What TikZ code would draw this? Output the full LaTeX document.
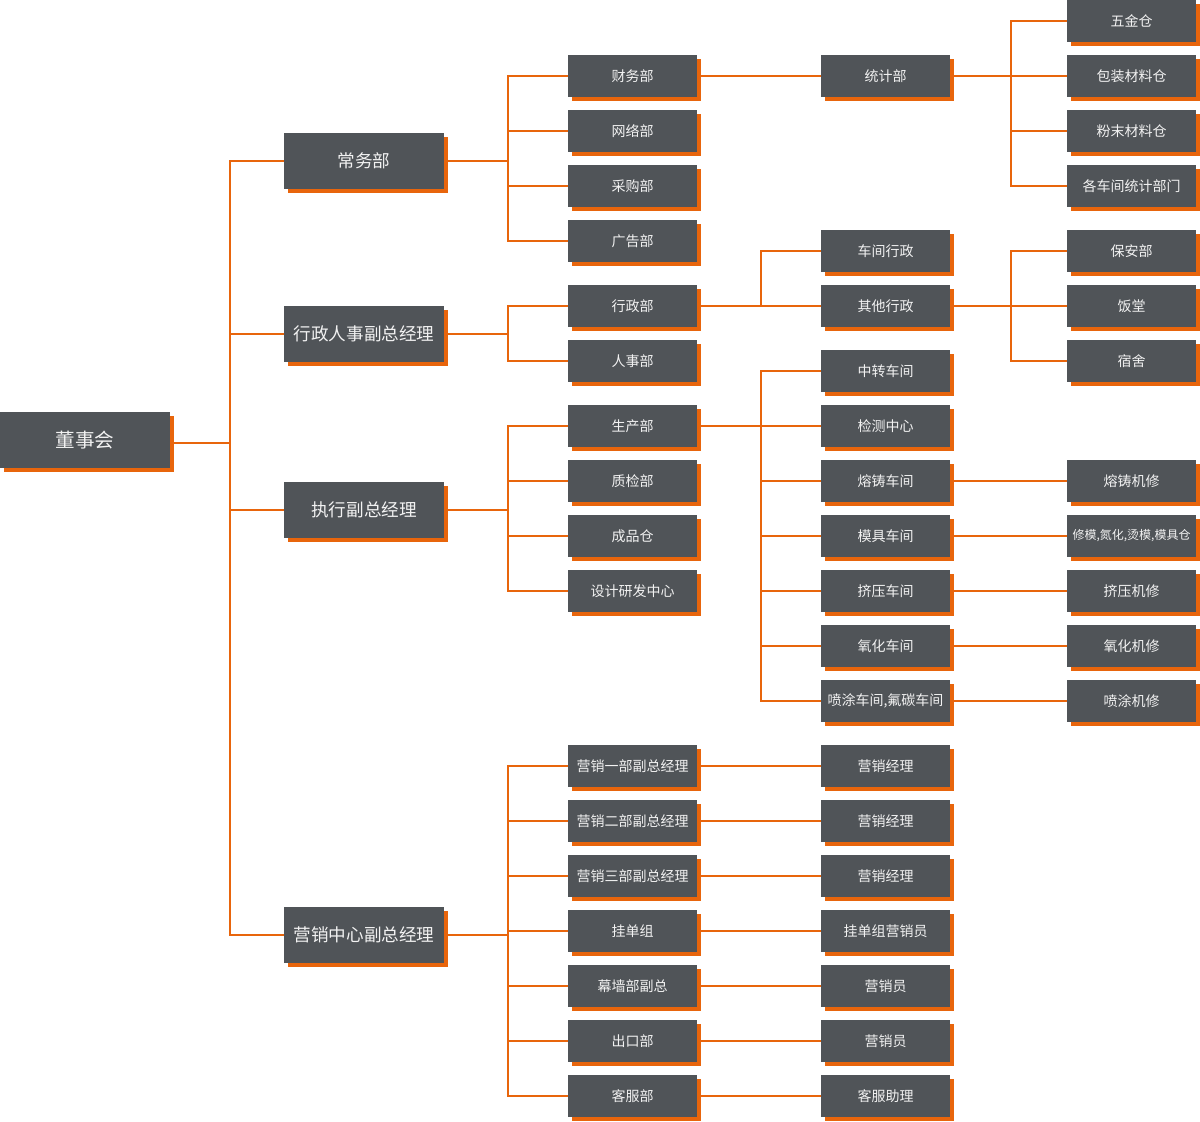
\documentclass[tikz,border=0pt]{standalone}
\usepackage{fontspec}
\usetikzlibrary{shadows}
\newfontfamily\cjk{Noto Sans CJK SC}
\definecolor{boxgray}{HTML}{505458}
\definecolor{orgline}{HTML}{E8650C}
\definecolor{boxtext}{HTML}{F2F2F2}

\tikzset{
    orgbox/.style={fill=boxgray, text=boxtext, inner sep=0pt, font=\cjk,
            drop shadow={shadow xshift=2pt, shadow yshift=-2pt, fill=orgline, opacity=1}},
    rootbox/.style={orgbox, minimum width=85pt, minimum height=28pt, font=\cjk\fontsize{9.8}{11}\selectfont},
    lvone/.style={orgbox, minimum width=80pt, minimum height=28pt, font=\cjk\fontsize{8.8}{10}\selectfont},
    lvtwo/.style={orgbox, minimum width=64.5pt, minimum height=21pt, font=\cjk\fontsize{7}{8}\selectfont},
    link/.style={draw=orgline, line width=1pt}
}

\begin{document}
\begin{tikzpicture}[x=0.5pt, y=-0.5pt]
    \useasboundingbox (0,0) rectangle (1200,1121);

    % Board
    \node[rootbox] (dsh) at (85,440) {董事会};

    % First level
    \foreach \name/\y/\txt in {cwb/161/常务部, xzrs/334/行政人事副总经理,
            zxfz/510/执行副总经理, yxzx/935/营销中心副总经理} {
            \node[lvone] (\name) at (364,\y) {\txt};
        }

    % Second level
    \foreach \name/\y/\txt in {caiwu/76/财务部, wangluo/131/网络部, caigou/186/采购部,
            guanggao/241/广告部, xingzheng/306/行政部, renshi/361/人事部,
            shengchan/426/生产部, zhijian/481/质检部, chengpin/536/成品仓,
            sheji/591/设计研发中心, yxa/766/营销一部副总经理, yxb/821/营销二部副总经理,
            yxc/876/营销三部副总经理, guadan/931/挂单组, muqiang/986/幕墙部副总,
            chukou/1041/出口部, kefu/1096/客服部} {
            \node[lvtwo] (\name) at (632.5,\y) {\txt};
        }

    % Third level
    \foreach \name/\y/\txt in {tongji/76/统计部, cjxz/251/车间行政, qtxz/306/其他行政,
            zhongzhuan/371/中转车间, jiance/426/检测中心, rongzhu/481/熔铸车间,
            muju/536/模具车间, jiya/591/挤压车间, yanghua/646/氧化车间,
            pentu/701/{喷涂车间,氟碳车间}, jla/766/营销经理, jlb/821/营销经理,
            jlc/876/营销经理, gdy/931/挂单组营销员, yxya/986/营销员,
            yxyb/1041/营销员, kfzl/1096/客服助理} {
            \node[lvtwo] (\name) at (885.5,\y) {\txt};
        }

    % Fourth level
    \foreach \name/\y/\txt in {wujin/21/五金仓, baozhuang/76/包装材料仓, fenmo/131/粉末材料仓,
            gecj/186/各车间统计部门, baoan/251/保安部, fantang/306/饭堂, sushe/361/宿舍,
            rzjx/481/熔铸机修, jyjx/591/挤压机修, yhjx/646/氧化机修, ptjx/701/喷涂机修} {
            \node[lvtwo] (\name) at (1131.5,\y) {\txt};
        }
    \node[lvtwo, font=\cjk\fontsize{6}{7}\selectfont] (xiumo) at (1131.5,536) {修模,氮化,烫模,模具仓};

    % Buses
    \coordinate (b0) at (230,443);
    \coordinate (b1) at (508,161);
    \coordinate (b2) at (508,334);
    \coordinate (b3) at (508,510);
    \coordinate (b4) at (508,935);
    \coordinate (c1) at (761,306);
    \coordinate (c2) at (761,426);
    \coordinate (d1) at (1011,76);
    \coordinate (d2) at (1011,306);

    % Connectors
    \draw[link] (dsh.east |- b0) -- (b0);
    \foreach \n in {cwb, xzrs, zxfz, yxzx} \draw[link] (b0) |- (\n.west);
    \draw[link] (cwb.east) -- (b1);
    \foreach \n in {caiwu, wangluo, caigou, guanggao} \draw[link] (b1) |- (\n.west);
    \draw[link] (xzrs.east) -- (b2);
    \foreach \n in {xingzheng, renshi} \draw[link] (b2) |- (\n.west);
    \draw[link] (zxfz.east) -- (b3);
    \foreach \n in {shengchan, zhijian, chengpin, sheji} \draw[link] (b3) |- (\n.west);
    \draw[link] (yxzx.east) -- (b4);
    \foreach \n in {yxa, yxb, yxc, guadan, muqiang, chukou, kefu} \draw[link] (b4) |- (\n.west);

    \draw[link] (xingzheng.east) -- (c1);
    \foreach \n in {cjxz, qtxz} \draw[link] (c1) |- (\n.west);
    \draw[link] (shengchan.east) -- (c2);
    \foreach \n in {zhongzhuan, jiance, rongzhu, muju, jiya, yanghua, pentu} \draw[link] (c2) |- (\n.west);

    \foreach \a/\b in {caiwu/tongji, yxa/jla, yxb/jlb, yxc/jlc, guadan/gdy,
            muqiang/yxya, chukou/yxyb, kefu/kfzl} \draw[link] (\a.east) -- (\b.west);

    \draw[link] (tongji.east) -- (d1);
    \foreach \n in {wujin, baozhuang, fenmo, gecj} \draw[link] (d1) |- (\n.west);
    \draw[link] (qtxz.east) -- (d2);
    \foreach \n in {baoan, fantang, sushe} \draw[link] (d2) |- (\n.west);

    \foreach \a/\b in {rongzhu/rzjx, muju/xiumo, jiya/jyjx, yanghua/yhjx, pentu/ptjx}
    \draw[link] (\a.east) -- (\b.west);
\end{tikzpicture}
\end{document}
